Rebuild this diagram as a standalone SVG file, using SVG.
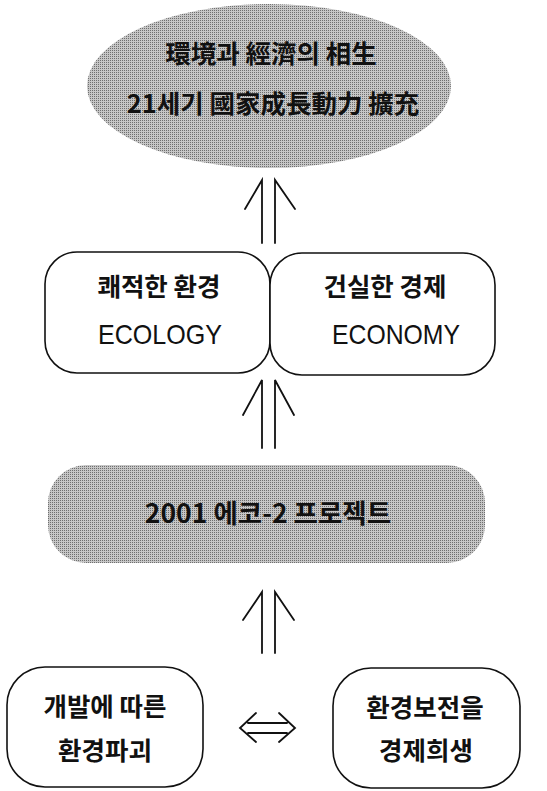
<svg xmlns="http://www.w3.org/2000/svg" width="547" height="791" viewBox="0 0 547 791">
<defs>
<pattern id="dots" width="2" height="2" patternUnits="userSpaceOnUse">
<rect width="2" height="2" fill="#c6c6c6"/>
<rect width="1" height="1" fill="#6e6e6e"/>
</pattern>
</defs>
<style>
.t{font-family:"Noto Sans CJK KR","Noto Sans",sans-serif;font-size:25.5px;fill:#111;text-anchor:middle;font-weight:700}
.e{font-family:"Liberation Sans","Noto Sans",sans-serif;font-size:28px;fill:#111;text-anchor:middle}
.box{fill:#fff;stroke:#111;stroke-width:1.6}
.gray{fill:url(#dots);stroke:none}
.ln{fill:none;stroke:#111;stroke-width:1.8;stroke-linecap:round}
</style>
<rect width="547" height="791" fill="#fff"/>
<g id="goal">
<ellipse class="gray" cx="269" cy="86" rx="182" ry="82"/>
<text class="t" x="271" y="63">環境과 經濟의 相生</text>
<text class="t" x="273" y="113">21세기 國家成長動力 擴充</text>
</g>
<g id="ecology">
<rect class="box" x="45" y="252" width="225" height="121" rx="32"/>
<text class="t" x="159" y="296">쾌적한 환경</text>
<text class="e" x="160" y="344" textLength="124" lengthAdjust="spacingAndGlyphs">ECOLOGY</text>
</g>
<g id="economy">
<rect class="box" x="270" y="253" width="225" height="122" rx="32"/>
<text class="t" x="385" y="296">건실한 경제</text>
<text class="e" x="396" y="344" textLength="128" lengthAdjust="spacingAndGlyphs">ECONOMY</text>
</g>
<g id="project">
<rect class="gray" x="48" y="465" width="437" height="98" rx="38"/>
<text class="t" x="268" y="523" style="font-size:26.5px">2001 에코-2 프로젝트</text>
</g>
<g id="dev">
<rect class="box" x="7" y="667" width="196" height="120" rx="38"/>
<text class="t" x="105" y="716">개발에 따른</text>
<text class="t" x="105" y="760">환경파괴</text>
</g>
<g id="conserve">
<rect class="box" x="333" y="668" width="187" height="120" rx="38"/>
<text class="t" x="425" y="717">환경보전을</text>
<text class="t" x="426" y="760">경제희생</text>
</g>
<g id="connectors">
<path class="ln" d="M262 243V180L245 209M275 243V180L295 209"/>
<path class="ln" d="M262 448V380L243 415M275 448V380L294 415"/>
<path class="ln" d="M262 653V592L243 620M275 653V592L294 620"/>
<path class="ln" d="M256 713L240 728L256 742M279 713L295 728L279 742M248 723H287M248 733H287"/>
</g>
</svg>
